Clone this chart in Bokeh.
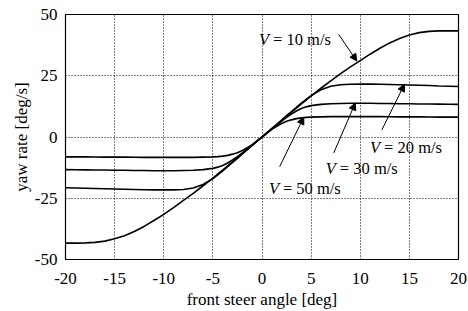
from bokeh.plotting import figure
from bokeh.models import FixedTicker, Arrow, NormalHead, Label, CustomJSTickFormatter
from bokeh.embed import file_html
from bokeh.resources import INLINE

# steer angle [deg]
steer = [-20, -19, -18, -17, -16, -15, -14, -13, -12, -11, -10, -9, -8, -7, -6, -5,
         -4.5, -4, -3.5, -3, -2.5, -2, -1.5, -1, -0.5,
         0,
         0.5, 1, 1.5, 2, 2.5, 3, 3.5, 4, 4.5,
         5, 6, 7, 8, 9, 10, 11, 12, 13, 14, 15, 16, 17, 18, 19, 20]

# yaw rate [deg/s] for each speed
yaw_v10 = [-43.3, -43.3, -43.2, -43.0, -42.5, -41.5, -40.3, -38.6, -36.5, -34.1, -31.6, -28.8, -25.9, -23.0,
           -19.9, -16.8, -15.1, -13.5, -11.8, -10.2, -8.5, -6.8, -5.1, -3.4, -1.7,
           0,
           1.7, 3.4, 5.1, 6.8, 8.5, 10.2, 11.8, 13.5, 15.1, 16.8, 19.9, 22.9, 25.9, 28.6, 31.2, 33.8,
           36.2, 38.4, 40.2, 41.6, 42.6, 43.1, 43.3, 43.3, 43.3]
yaw_v20 = [-20.7, -20.8, -20.9, -21.0, -21.1, -21.2, -21.3, -21.4, -21.5, -21.6, -21.6, -21.6, -21.4, -20.8,
           -19.4, -17.0, -15.5, -13.8, -12.1, -10.4, -8.7, -6.9, -5.2, -3.4, -1.7,
           0,
           1.7, 3.4, 5.2, 6.9, 8.7, 10.4, 12.1, 13.8, 15.4, 16.9, 19.3, 20.7, 21.3, 21.5, 21.6, 21.6,
           21.5, 21.4, 21.3, 21.2, 21.1, 21.0, 20.8, 20.7, 20.6]
yaw_v30 = [-13.3, -13.35, -13.4, -13.45, -13.5, -13.55, -13.6, -13.7, -13.7, -13.8, -13.8, -13.8, -13.7, -13.6,
           -13.3, -12.8, -12.3, -11.6, -10.6, -9.4, -8.0, -6.5, -4.9, -3.3, -1.6,
           0,
           1.6, 3.3, 4.9, 6.5, 8.0, 9.4, 10.6, 11.6, 12.3, 12.8, 13.3, 13.6, 13.7, 13.8, 13.8, 13.8,
           13.7, 13.7, 13.6, 13.55, 13.5, 13.45, 13.4, 13.35, 13.3]
yaw_v50 = [-8.1, -8.1, -8.1, -8.15, -8.2, -8.2, -8.2, -8.25, -8.3, -8.3, -8.3, -8.3, -8.3, -8.3,
           -8.2, -8.1, -8.0, -7.8, -7.5, -7.0, -6.4, -5.5, -4.4, -3.1, -1.6,
           0,
           1.6, 3.1, 4.4, 5.5, 6.4, 7.0, 7.5, 7.8, 8.0, 8.1, 8.2, 8.3, 8.3, 8.3, 8.3, 8.3,
           8.3, 8.25, 8.2, 8.2, 8.2, 8.15, 8.1, 8.1, 8.1]

x_ticks = [-20, -15, -10, -5, 0, 5, 10, 15, 20]
y_ticks = [-50, -25, 0, 25, 50]

speed_labels = ["= 10 m/s", "= 20 m/s", "= 30 m/s", "= 50 m/s"]

FONT = "Liberation Serif"
FS = "16.5px"
AFS = "17px"

p = figure(width=468, height=311, x_range=(-20, 20), y_range=(-50, 50),
           output_backend="svg", toolbar_location=None,
           min_border_left=65, min_border_right=10, min_border_top=14, min_border_bottom=51)

p.background_fill_color = "white"
p.border_fill_color = "white"
p.outline_line_color = "black"
p.outline_line_width = 1.2
p.outline_line_alpha = 1

p.xaxis.ticker = FixedTicker(ticks=x_ticks)
p.yaxis.ticker = FixedTicker(ticks=y_ticks)
fmt = "return tick.toString();"
for ax in (p.xaxis, p.yaxis):
    ax.formatter = CustomJSTickFormatter(code=fmt)
    ax.axis_line_color = "black"
    ax.major_tick_in = 0
    ax.major_tick_out = 0
    ax.minor_tick_line_color = None
    ax.major_label_text_font = FONT
    ax.major_label_text_font_size = AFS
    ax.major_label_text_color = "black"
    ax.axis_label_text_font = FONT
    ax.axis_label_text_font_size = AFS
    ax.axis_label_text_font_style = "normal"
    ax.axis_label_text_color = "black"

p.xaxis.axis_label = "front steer angle [deg]"
p.yaxis.axis_label = "yaw rate [deg/s]"
p.xaxis.major_label_standoff = 13
p.xaxis.axis_label_standoff = 3
p.yaxis.major_label_standoff = 8
p.yaxis.axis_label_standoff = 1

p.grid.grid_line_color = "black"
p.grid.grid_line_dash = "1 2"
p.grid.grid_line_width = 1

for ys in (yaw_v10, yaw_v20, yaw_v30, yaw_v50):
    p.line(steer, ys, line_color="black", line_width=1.6)

# labels: (x, y) left baseline in data units
label_pos = [(-0.3, 40.0), (11.0, -4.3), (6.5, -12.9), (0.7, -20.9)]
for (lx, ly), txt in zip(label_pos, speed_labels):
    p.add_layout(Label(x=lx, y=ly, text="V", text_font=FONT, text_font_size=FS, text_color="black",
                       text_font_style="italic", text_baseline="alphabetic", text_align="left"))
    p.add_layout(Label(x=lx, y=ly, x_offset=14, text=txt, text_font=FONT, text_font_size=FS,
                       text_color="black", text_baseline="alphabetic", text_align="left"))

arrows = [((7.8, 41.9), (9.65, 31.0)),
          ((12.2, 2.9), (14.5, 21.5)),
          ((7.3, -6.5), (9.5, 13.9)),
          ((1.8, -12.1), (4.25, 8.1))]
for (xs, ys_), (xe, ye) in arrows:
    p.add_layout(Arrow(end=NormalHead(size=7, fill_color="black", line_color="black", line_width=1),
                       x_start=xs, y_start=ys_, x_end=xe, y_end=ye,
                       line_color="black", line_width=1))

open("out.html", "w").write(file_html(p, INLINE))
